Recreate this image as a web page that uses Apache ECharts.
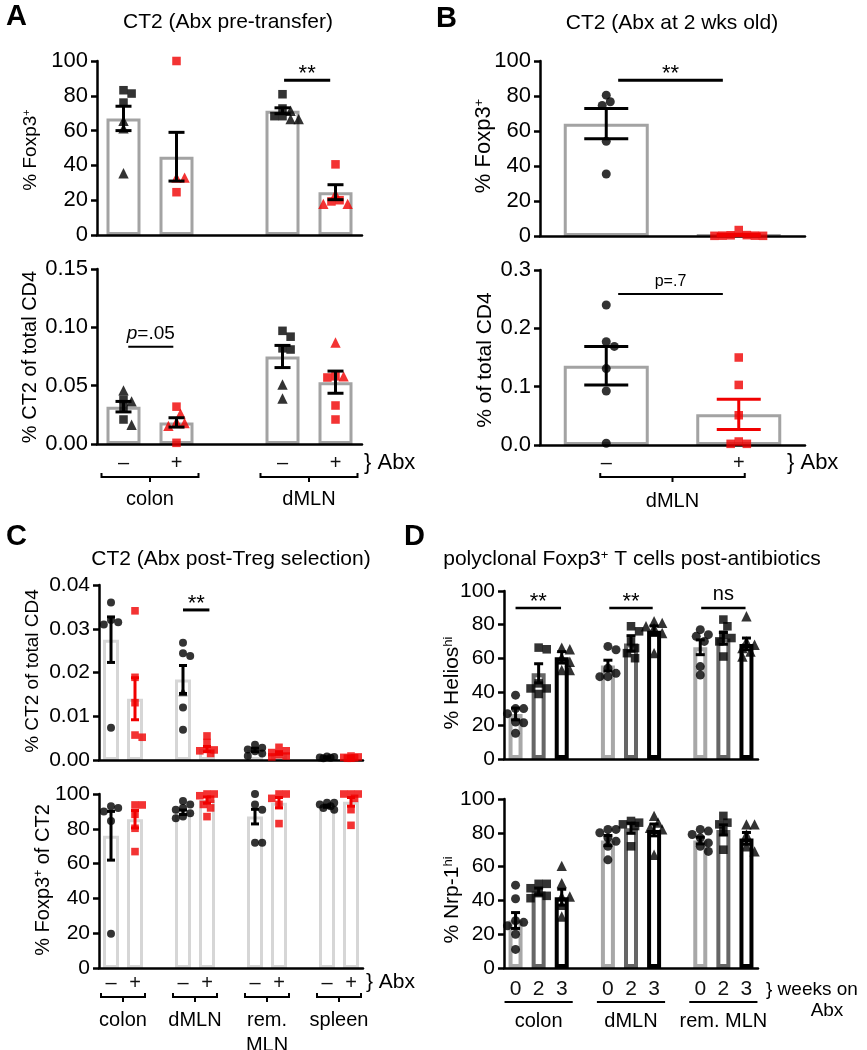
<!DOCTYPE html>
<html>
<head>
<meta charset="utf-8">
<script src="https://cdn.jsdelivr.net/npm/echarts@6/dist/echarts.min.js"></script>
<style>
  html, body { margin: 0; padding: 0; background: #fff; }
  #chart { width: 867px; height: 1050px; }
</style>
</head>
<body>
<div id="chart"></div>
<script>
// ---- data ----
// A: CT2 (Abx pre-transfer)
const aLabels = ['–', '+', '', '–', '+'];
const aTopMean = [67, 45, null, 71.4, 24.6];
const aTopSem = [7, 14, null, 1.7, 4.3];
const aTopSquares = [[83.2, 81.3, 76.1], [100, 24.6], [], [80.9, 72.7, 68.3, 68.3], [40.6, 20, 19.3]];
const aTopTriangles = [[65.6, 61.3, 35.5], [33, 33], [], [71.4, 66.6, 66.6], [23.5, 17.9, 17.9]];
const aBotMean = [0.032, 0.0185, null, 0.075, 0.053];
const aBotSem = [0.0045, 0.004, null, 0.0095, 0.0095];
const aBotSquares = [[0.038, 0.031, 0.021], [0.032, 0.001], [], [0.097, 0.092, 0.082, 0.081], [0.058, 0.057, 0.033, 0.021]];
const aBotTriangles = [[0.046, 0.0365, 0.0165], [0.026, 0.019, 0.018, 0.0155], [], [0.051, 0.039], [0.087, 0.058]];

// B: CT2 (Abx at 2 wks old)
const bLabels = ['–', '+'];
const bTopMean = [64.2, 0.6];
const bTopSem = [8.6, 0.45];
const bTopCircles = [[80.5, 76.7, 74.6, 54.1, 35.4], []];
const bTopSquares = [[], [3.4, 0.4, 0.2, 0.1, 0.1, 0.2, 0.5]];
const bBotMean = [0.136, 0.0526];
const bBotSem = [0.033, 0.026];
const bBotCircles = [[0.24, 0.177, 0.169, 0.131, 0.0926, 0.003], []];
const bBotSquares = [[], [0.15, 0.103, 0.051, 0.006, 0.002, 0.002]];

// C: CT2 (Abx post-Treg selection)
const cLabels = ['–', '+', '', '–', '+', '', '–', '+', '', '–', '+'];
const cTopMean = [0.0275, 0.014, null, 0.0184, 0.0025, null, 0.0023, 0.0016, null, 0.0006, 0.0006];
const cTopSem = [0.0052, 0.0048, null, 0.0032, 0.0006, null, 0.0004, 0.0003, null, 0.0001, 0.0001];
const cTopCircles = [[0.036, 0.032, 0.0315, 0.031, 0.0074], [], [], [0.0268, 0.0244, 0.0238, 0.012, 0.0069], [], [],
  [0.0035, 0.0028, 0.0024, 0.002, 0.0015, 0.0009], [], [], [0.0008, 0.0007, 0.0006, 0.0005, 0.0004], []];
const cTopTriangles = [[], [], [], [0.0156], [], [], [], [], [], [], []];
const cTopSquares = [[], [0.0341, 0.0189, 0.0131, 0.0057, 0.0052], [], [], [0.0055, 0.004, 0.0025, 0.0023, 0.0021, 0.0015], [], [],
  [0.0029, 0.0021, 0.0017, 0.0012, 0.0009, 0.0007], [], [], [0.0009, 0.0007, 0.0006, 0.0005, 0.0004, 0.0004]];
const cBotMean = [76, 85.5, null, 89.5, 96.5, null, 87, 95, null, 93, 95.5];
const cBotSem = [14, 5, null, 1.3, 1.8, null, 4.2, 3, null, 0.6, 2.5];
const cBotCircles = [[93, 92, 90, 84.5, 19.7], [], [], [96, 94, 92, 91, 89, 87, 86], [], [],
  [100, 94, 91, 72, 72], [], [], [95, 95, 94, 93, 92, 91], []];
const cBotSquares = [[], [93.7, 93.7, 88.3, 80.3, 66.9], [], [], [100, 100, 99, 97, 94, 92, 87], [], [],
  [100, 100, 97.5, 94, 83], [], [], [100, 100, 100, 97.5, 91, 82]];
const cGroups = ['colon', 'dMLN', 'rem.\nMLN', 'spleen'];

// D: polyclonal Foxp3+ T cells post-antibiotics (weeks on Abx)
const dLabels = ['0', '2', '3', '', '0', '2', '3', '', '0', '2', '3'];
const dTopMean = [26.8, 51, 60.5, null, 55.6, 68.8, 76.4, null, 66.5, 71.8, 68.5];
const dTopSem = [3.5, 5.7, 3.4, null, 3.2, 4.6, 2.8, null, 4.4, 3.5, 3.5];
const dTopValues = [[38, 30, 30, 27, 22, 21.6, 15.3], [66.3, 65.3, 45, 42, 42, 38.7], [66.3, 65.3, 60.5, 57.9, 53, 53], [],
  [67, 65, 54, 51, 49, 49], [79, 76, 70, 66, 63, 60], [82, 81, 79, 78, 75, 63], [],
  [77, 74, 73, 70, 55, 50], [83, 79, 74, 72, 70, 61], [85, 70, 68, 66, 64, 61]];
const dBotMean = [28.1, 45.3, 41.9, null, 75.4, 82.7, 81.7, null, 75.4, 81.7, 76.7];
const dBotSem = [4.7, 2, 4.7, null, 3, 3, 3.5, null, 2, 3, 3.5];
const dBotValues = [[49, 41, 28, 27, 25, 20, 11], [49.8, 49.8, 47.2, 44.3, 42.7, 41.3], [60.4, 50.2, 42.3, 42.3, 37.4, 30.5], [],
  [82, 82, 80, 77, 75, 72, 64], [87, 86, 85, 84, 72], [90, 86, 83, 82, 67], [],
  [82, 81, 79, 77, 74, 72, 69], [90, 86, 85, 81, 70], [85, 85, 79, 72, 69]];
const dGroups = ['colon', 'dMLN', 'rem. MLN'];

// ---- styling ----
const FONT = '"Liberation Sans", Arial, sans-serif';
const RED = '#f00000';
const BLACK = '#000000';
const sign = labels => i => labels[i] === '+' ? RED : BLACK;
const weekBar = { '0': '#a8a8a8', '2': '#666666', '3': '#000000' };
const weekShape = { '0': 'circle', '2': 'rect', '3': 'triangle' };
const symbolScale = { circle: 1, rect: 0.95, triangle: 1.15 };

const option = { animation: false, backgroundColor: '#fff', grid: [], xAxis: [], yAxis: [], series: [], graphic: [] };

// spread points of one group sideways so they do not sit on each other,
// but keep them within maxPx of the category centre (overlap if needed)
function swarm(group, pxY, size, maxPx) {
  const placed = [];
  const order = group.map((p, i) => i).sort((a, b) => group[b].v - group[a].v);
  order.forEach(k => {
    const py = group[k].v * pxY;
    let best = 0, bestGap = -1;
    for (let j = 0; j < 40; j++) {
      const c = j === 0 ? 0 : (j % 2 ? 1 : -1) * Math.ceil(j / 2) * size * 0.45;
      if (Math.abs(c) > maxPx) break;
      const gap = placed.length ? Math.min(...placed.map(q => Math.hypot(q.x - c, q.y - py))) : Infinity;
      if (gap >= size * 0.8) { best = c; bestGap = gap; break; }
      if (gap > bestGap) { best = c; bestGap = gap; }
    }
    placed.push({ x: best, y: py });
    group[k].dx = best;
  });
}

function buildPanel(o) {
  const gi = option.grid.length;
  const n = o.labels.length;
  option.grid.push({ left: o.left, top: o.top, width: o.width, height: o.height });
  const catAxis = option.xAxis.length;
  option.xAxis.push({
    type: 'category', gridIndex: gi, data: o.labels, z: 5,
    axisLine: { onZero: false, lineStyle: { color: '#000', width: 2.5 } },
    axisTick: { alignWithLabel: true, interval: 0, length: 6, lineStyle: { color: '#000', width: 2.5 } },
    axisLabel: { show: !!o.showLabels, interval: 0, margin: o.labelMargin || 8, fontSize: o.labelSize || 20, fontFamily: FONT, color: '#111' }
  });
  const valAxis = option.xAxis.length;
  option.xAxis.push({ type: 'value', gridIndex: gi, show: false, min: -0.5, max: n - 0.5, axisLine: { onZero: false } });
  const yi = option.yAxis.length;
  option.yAxis.push({
    type: 'value', gridIndex: gi, min: o.yMin, max: o.yMax, interval: o.yInterval, z: 5,
    axisLine: { show: true, onZero: false, lineStyle: { color: '#000', width: 2.5 } },
    axisTick: { show: true, length: 6, lineStyle: { color: '#000', width: 2.5 } },
    splitLine: { show: false },
    axisLabel: { margin: 9, fontSize: o.tickSize || 22, fontFamily: FONT, color: '#000', formatter: v => v.toFixed(o.decimals) }
  });

  // hollow bars = group means
  option.series.push({
    type: 'bar', xAxisIndex: catAxis, yAxisIndex: yi, barWidth: o.barWidth, z: 2, silent: true,
    data: o.mean.map((m, i) => m == null ? '-' : {
      value: m, itemStyle: { color: '#fff', borderColor: o.barColor(i), borderWidth: o.barBorder }
    })
  });

  // individual animals
  const pxY = o.height / (o.yMax - o.yMin);
  const pxCat = o.width / n;
  const maxPx = Math.min(pxCat * 0.42, 40);
  const pts = [];
  for (let i = 0; i < n; i++) {
    const group = [];
    o.points.forEach(set => (set.data[i] || []).forEach(v => group.push({ v, shape: set.shape(i), color: set.color(i) })));
    swarm(group, pxY, o.markerSize, maxPx);
    group.forEach(p => pts.push({
      value: [i + p.dx / pxCat, p.v], symbol: p.shape,
      symbolSize: o.markerSize * symbolScale[p.shape], itemStyle: { color: p.color }
    }));
  }
  option.series.push({ type: 'scatter', xAxisIndex: valAxis, yAxisIndex: yi, z: 6, silent: true, clip: false, data: pts });

  // mean +/- SEM
  option.series.push({
    type: 'custom', xAxisIndex: valAxis, yAxisIndex: yi, z: 7, silent: true,
    data: o.mean.map((m, i) => m == null ? null : { value: [i, m, o.sem[i]], itemStyle: { color: o.errColor(i) } }).filter(Boolean),
    renderItem: (params, api) => {
      const x = api.value(0), m = api.value(1), s = api.value(2);
      const hi = api.coord([x, m + s]);
      const lo = api.coord([x, Math.max(m - s, o.yMin)]);
      const h = o.capWidth / 2;
      const st = { stroke: api.visual('color'), lineWidth: o.errWidth };
      return { type: 'group', children: [
        { type: 'line', shape: { x1: hi[0], y1: hi[1], x2: lo[0], y2: lo[1] }, style: st },
        { type: 'line', shape: { x1: hi[0] - h, y1: hi[1], x2: hi[0] + h, y2: hi[1] }, style: st },
        { type: 'line', shape: { x1: lo[0] - h, y1: lo[1], x2: lo[0] + h, y2: lo[1] }, style: st }
      ] };
    }
  });

  // significance bars
  if (o.sig) {
    option.series.push({
      type: 'custom', xAxisIndex: valAxis, yAxisIndex: yi, z: 8, silent: true, clip: false,
      data: o.sig.map(s => [s.x1, s.y, s.x2]),
      renderItem: (params, api) => {
        const s = o.sig[params.dataIndex];
        const a = api.coord([api.value(0), api.value(1)]);
        const b = api.coord([api.value(2), api.value(1)]);
        return { type: 'group', children: [
          { type: 'line', shape: { x1: a[0], y1: a[1], x2: b[0], y2: a[1] }, style: { stroke: '#000', lineWidth: s.lw } },
          { type: 'text', x: (a[0] + b[0]) / 2, y: a[1] - s.dy, style: {
            text: s.text, fill: '#000', fontSize: s.size, fontFamily: FONT,
            align: 'center', verticalAlign: 'middle', textAlign: 'center', textVerticalAlign: 'middle',
            rich: { i: { fontStyle: 'italic', fontSize: s.size, fontFamily: FONT, fill: '#000' } }
          } }
        ] };
      }
    });
  }

  // group brackets under the axis
  if (o.brackets) {
    option.series.push({
      type: 'custom', xAxisIndex: valAxis, yAxisIndex: yi, z: 8, silent: true, clip: false,
      data: o.brackets.map(b => [b.from, o.yMin, b.to]),
      renderItem: (params, api) => {
        const b = o.brackets[params.dataIndex];
        const p1 = api.coord([api.value(0), api.value(1)]);
        const p2 = api.coord([api.value(2), api.value(1)]);
        const y = p1[1] + o.bracketDy;
        const x1 = p1[0] - o.bracketExt, x2 = p2[0] + o.bracketExt, xc = (x1 + x2) / 2;
        const st = { stroke: '#000', lineWidth: 2, fill: null };
        const kids = [];
        if (o.bracketStyle === 'brace') {
          kids.push({ type: 'polyline', shape: { points: [[x1, y - 4], [x1, y], [x2, y], [x2, y - 4]] }, style: st });
          kids.push({ type: 'line', shape: { x1: xc, y1: y, x2: xc, y2: y + 5 }, style: st });
        } else {
          kids.push({ type: 'line', shape: { x1: x1, y1: y, x2: x2, y2: y }, style: st });
        }
        kids.push({ type: 'text', x: xc, y: p1[1] + o.groupDy, style: {
          text: b.label, fill: '#000', fontSize: 20, fontFamily: FONT, lineHeight: 25,
          align: 'center', verticalAlign: 'top', textAlign: 'center', textVerticalAlign: 'top'
        } });
        return { type: 'group', children: kids };
      }
    });
  }
}

// A top
buildPanel({
  left: 97, top: 61, width: 265, height: 174, yMin: 0, yMax: 100, yInterval: 20, decimals: 0,
  labels: aLabels, mean: aTopMean, sem: aTopSem,
  barWidth: 34, barBorder: 3, barColor: () => '#a3a3a3',
  points: [
    { data: aTopSquares, shape: () => 'rect', color: sign(aLabels) },
    { data: aTopTriangles, shape: () => 'triangle', color: sign(aLabels) }
  ],
  markerSize: 9, errColor: () => BLACK, capWidth: 16, errWidth: 3,
  sig: [{ x1: 3.03, x2: 3.9, y: 89, text: '**', size: 22, lw: 3, dy: 6 }]
});
// A bottom
buildPanel({
  left: 97, top: 269, width: 265, height: 175, yMin: 0, yMax: 0.15, yInterval: 0.05, decimals: 2,
  labels: aLabels, showLabels: true, labelMargin: 9, mean: aBotMean, sem: aBotSem,
  barWidth: 34, barBorder: 3, barColor: () => '#a3a3a3',
  points: [
    { data: aBotSquares, shape: () => 'rect', color: sign(aLabels) },
    { data: aBotTriangles, shape: () => 'triangle', color: sign(aLabels) }
  ],
  markerSize: 9, errColor: () => BLACK, capWidth: 16, errWidth: 3,
  sig: [{ x1: 0.09, x2: 0.94, y: 0.0833, text: '{i|p}=.05', size: 19, lw: 2, dy: 13 }],
  brackets: [{ from: 0, to: 1, label: 'colon' }, { from: 3, to: 4, label: 'dMLN' }],
  bracketStyle: 'brace', bracketExt: 22, bracketDy: 33, groupDy: 43
});
// B top
buildPanel({
  left: 540, top: 61, width: 265, height: 175, yMin: 0, yMax: 100, yInterval: 20, decimals: 0,
  labels: bLabels, mean: bTopMean, sem: bTopSem,
  barWidth: 85, barBorder: 3, barColor: () => '#a3a3a3',
  points: [
    { data: bTopCircles, shape: () => 'circle', color: sign(bLabels) },
    { data: bTopSquares, shape: () => 'rect', color: sign(bLabels) }
  ],
  markerSize: 9, errColor: sign(bLabels), capWidth: 44, errWidth: 3,
  sig: [{ x1: 0.09, x2: 0.88, y: 89, text: '**', size: 22, lw: 3, dy: 6 }]
});
// B bottom
buildPanel({
  left: 540, top: 270, width: 265, height: 175, yMin: 0, yMax: 0.3, yInterval: 0.1, decimals: 1,
  labels: bLabels, showLabels: true, labelMargin: 8, mean: bBotMean, sem: bBotSem,
  barWidth: 85, barBorder: 3, barColor: () => '#a3a3a3',
  points: [
    { data: bBotCircles, shape: () => 'circle', color: sign(bLabels) },
    { data: bBotSquares, shape: () => 'rect', color: sign(bLabels) }
  ],
  markerSize: 9, errColor: sign(bLabels), capWidth: 44, errWidth: 3,
  sig: [{ x1: 0.09, x2: 0.88, y: 0.259, text: 'p=.7', size: 16, lw: 2, dy: 12 }],
  brackets: [{ from: 0, to: 1, label: 'dMLN' }],
  bracketStyle: 'brace', bracketExt: 6, bracketDy: 32, groupDy: 44
});
// C top
buildPanel({
  left: 99, top: 585, width: 264, height: 175, yMin: 0, yMax: 0.04, yInterval: 0.01, decimals: 2, tickSize: 21,
  labels: cLabels, mean: cTopMean, sem: cTopSem,
  barWidth: 16, barBorder: 3, barColor: () => '#d6d6d6',
  points: [
    { data: cTopCircles, shape: () => 'circle', color: sign(cLabels) },
    { data: cTopTriangles, shape: () => 'triangle', color: sign(cLabels) },
    { data: cTopSquares, shape: () => 'rect', color: sign(cLabels) }
  ],
  markerSize: 8, errColor: sign(cLabels), capWidth: 8, errWidth: 3,
  sig: [{ x1: 3, x2: 4.1, y: 0.0343, text: '**', size: 22, lw: 3, dy: 6 }]
});
// C bottom
buildPanel({
  left: 99, top: 794, width: 264, height: 174, yMin: 0, yMax: 100, yInterval: 20, decimals: 0, tickSize: 21,
  labels: cLabels, showLabels: true, labelMargin: 5, mean: cBotMean, sem: cBotSem,
  barWidth: 16, barBorder: 3, barColor: () => '#d6d6d6',
  points: [
    { data: cBotCircles, shape: () => 'circle', color: sign(cLabels) },
    { data: cBotSquares, shape: () => 'rect', color: sign(cLabels) }
  ],
  markerSize: 8, errColor: sign(cLabels), capWidth: 8, errWidth: 3,
  brackets: cGroups.map((g, k) => ({ from: 3 * k, to: 3 * k + 1, label: g })),
  bracketStyle: 'brace', bracketExt: 10, bracketDy: 29, groupDy: 40
});
// D top
buildPanel({
  left: 504, top: 591, width: 254, height: 168, yMin: 0, yMax: 100, yInterval: 20, decimals: 0, tickSize: 21,
  labels: dLabels, mean: dTopMean, sem: dTopSem,
  barWidth: 14, barBorder: 4, barColor: i => weekBar[dLabels[i]],
  points: [{ data: dTopValues, shape: i => weekShape[dLabels[i]], color: () => BLACK }],
  markerSize: 9, errColor: () => BLACK, capWidth: 9, errWidth: 3,
  sig: [
    { x1: 0, x2: 1.97, y: 89.9, text: '**', size: 22, lw: 2.5, dy: 6 },
    { x1: 4.06, x2: 5.94, y: 89.9, text: '**', size: 22, lw: 2.5, dy: 6 },
    { x1: 8.04, x2: 9.96, y: 89.9, text: 'ns', size: 20, lw: 2.5, dy: 13 }
  ]
});
// D bottom
buildPanel({
  left: 504, top: 799, width: 254, height: 169, yMin: 0, yMax: 100, yInterval: 20, decimals: 0, tickSize: 21,
  labels: dLabels, showLabels: true, labelMargin: 11, labelSize: 21, mean: dBotMean, sem: dBotSem,
  barWidth: 14, barBorder: 4, barColor: i => weekBar[dLabels[i]],
  points: [{ data: dBotValues, shape: i => weekShape[dLabels[i]], color: () => BLACK }],
  markerSize: 9, errColor: () => BLACK, capWidth: 9, errWidth: 3,
  brackets: dGroups.map((g, k) => ({ from: 4 * k, to: 4 * k + 2, label: g })),
  bracketStyle: 'line', bracketExt: 11, bracketDy: 34, groupDy: 41
});

// ---- titles, panel letters, axis names ----
const sup = size => ({ sup: { fontSize: Math.round(size * 0.6), fontFamily: FONT, fill: '#000', verticalAlign: 'top', lineHeight: 10 } });
function txt(x, y, text, size, extra) {
  return {
    type: 'text', x: x, y: y, silent: true,
    style: Object.assign({
      text: text, fill: '#000', fontSize: size, fontFamily: FONT,
      align: 'center', verticalAlign: 'middle', textAlign: 'center', textVerticalAlign: 'middle', rich: sup(size)
    }, extra || {})
  };
}
function yName(x, y, text, size) {
  const t = txt(x, y, text, size);
  t.rotation = Math.PI / 2;
  return t;
}
const left = { align: 'left', textAlign: 'left' };
const bold = { fontWeight: 'bold', align: 'left', textAlign: 'left', verticalAlign: 'top', textVerticalAlign: 'top' };

option.graphic = [
  txt(6, 2, 'A', 29, bold), txt(436, 4, 'B', 29, bold), txt(6, 522, 'C', 29, bold), txt(404, 522, 'D', 29, bold),
  txt(228, 22, 'CT2 (Abx pre-transfer)', 21),
  txt(672, 23, 'CT2 (Abx at 2 wks old)', 21),
  txt(231, 559, 'CT2 (Abx post-Treg selection)', 21),
  txt(632, 559, 'polyclonal Foxp3{sup|+} T cells post-antibiotics', 21),
  yName(31, 150, '% Foxp3{sup|+}', 19),
  yName(30, 357, '% CT2 of total CD4', 20),
  yName(484, 146, '% Foxp3{sup|+}', 22),
  yName(485, 360, '% of total CD4', 21),
  yName(33, 671, '% CT2 of total CD4', 19),
  yName(43, 880, '% Foxp3{sup|+} of CT2', 20),
  yName(452, 683, '% Helios{sup|hi}', 21),
  yName(452, 900, '% Nrp-1{sup|hi}', 21),
  txt(364, 463, '} Abx', 22, left),
  txt(787, 463, '} Abx', 22, left),
  txt(366, 982, '} Abx', 21, left),
  txt(766, 990, '} weeks on', 19, left),
  txt(827, 1011, 'Abx', 19)
];

const chart = echarts.init(document.getElementById('chart'), null, { renderer: 'canvas' });
chart.setOption(option);
window.addEventListener('resize', () => chart.resize());
</script>
</body>
</html>
